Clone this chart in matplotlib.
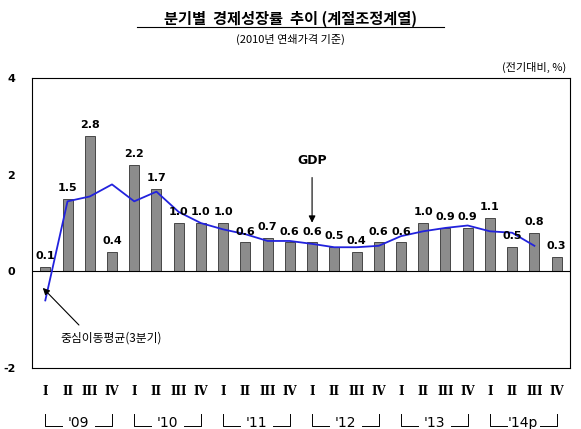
import matplotlib
matplotlib.use("Agg")
import matplotlib.pyplot as plt
from matplotlib.transforms import blended_transform_factory
import numpy as np

plt.rcParams['font.family'] = ['Noto Sans CJK KR', 'DejaVu Sans']

quarters = ['I', 'II', 'III', 'IV'] * 6
years = ["'09", "'10", "'11", "'12", "'13", "'14"]
gdp = [0.1, 1.5, 2.8, 0.4, 2.2, 1.7, 1.0, 1.0, 1.0, 0.6, 0.7, 0.6,
       0.6, 0.5, 0.4, 0.6, 0.6, 1.0, 0.9, 0.9, 1.1, 0.5, 0.8, 0.3]
ma = [-0.6, 1.45, 1.55, 1.8, 1.45, 1.65, 1.23, 1.0, 0.87, 0.77, 0.63, 0.63,
      0.57, 0.5, 0.5, 0.53, 0.73, 0.83, 0.9, 0.95, 0.83, 0.8, 0.53]

fig = plt.figure(figsize=(5.81, 4.29), dpi=100)
ax = fig.add_axes([0.055, 0.142, 0.926, 0.676])
x = np.arange(len(gdp))
ax.bar(x, gdp, width=0.45, color='#8c8c8c', edgecolor='#333333', linewidth=0.6, zorder=2)
ax.plot(np.arange(len(ma)), ma, color='#2222dd', linewidth=1.3, zorder=3)
for xi, v in zip(x, gdp):
    ax.text(xi, v + 0.12, f'{v:.1f}', ha='center', va='bottom', fontsize=8, fontweight='bold', family='DejaVu Sans')
ax.axhline(0, color='black', linewidth=0.8)
ax.set_xlim(-0.6, 23.6)
ax.set_ylim(-2, 4)
ax.set_yticks([-2, 0, 2, 4])
ax.set_yticklabels(['-2', '0', '2', '4'], fontsize=8, fontweight='bold', family='DejaVu Sans')
ax.tick_params(axis='y', length=0, pad=12)
ax.set_xticks([])

tr = blended_transform_factory(ax.transData, ax.transAxes)
for xi, q in zip(x, quarters):
    ax.text(xi, -0.06, q, transform=tr, ha='center', va='top', fontsize=8.5, family='DejaVu Serif', fontweight='bold')
for i, yl in enumerate(years):
    a, b = 4 * i, 4 * i + 3
    c = (a + b) / 2
    ax.text(c, -0.19, yl + ('p' if i == 5 else ''), transform=tr, ha='center', va='center', fontsize=10, family='DejaVu Sans')
    ax.plot([a, a, c - 0.75], [-0.16, -0.2, -0.2], transform=tr, color='black', lw=0.7, clip_on=False)
    ax.plot([c + 0.75, b, b], [-0.2, -0.2, -0.16], transform=tr, color='black', lw=0.7, clip_on=False)

ax.annotate('', xy=(12, 0.95), xytext=(12, 2.0),
            arrowprops=dict(arrowstyle='-|>', color='black', lw=0.8))
ax.text(12, 2.15, 'GDP', ha='center', va='bottom', fontsize=9, fontweight='bold', family='DejaVu Sans')
ax.annotate('', xy=(-0.2, -0.3), xytext=(1.6, -1.15),
            arrowprops=dict(arrowstyle='-|>', color='black', lw=0.8))
ax.text(0.7, -1.25, '중심이동평균(3분기)', ha='left', va='top', fontsize=8.5)

fig.text(0.5, 0.945, '분기별  경제성장률  추이 (계절조정계열)', ha='center', fontsize=11, fontweight='bold')
fig.lines.append(plt.Line2D([0.235, 0.765], [0.937, 0.937], transform=fig.transFigure, color='black', lw=0.8))
fig.text(0.5, 0.9, '(2010년 연쇄가격 기준)', ha='center', fontsize=8)
fig.text(0.975, 0.835, '(전기대비, %)', ha='right', fontsize=8)

fig.savefig('out.png', dpi=100)
